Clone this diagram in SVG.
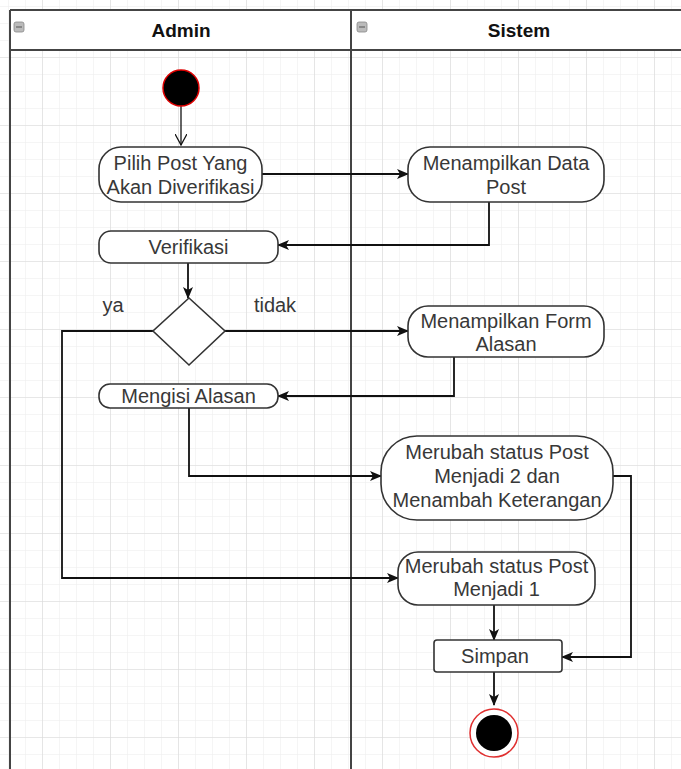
<svg xmlns="http://www.w3.org/2000/svg" width="681" height="769" viewBox="0 0 681 769">
<defs>
  <pattern id="fine" x="42" y="57" width="17" height="17" patternUnits="userSpaceOnUse">
    <path d="M0,0 H17 M0,0 V17" fill="none" stroke="#ececec" stroke-width="1"/>
  </pattern>
  <pattern id="major" x="42" y="57" width="68" height="68" patternUnits="userSpaceOnUse">
    <path d="M0,0 H68 M0,0 V68" fill="none" stroke="#dadada" stroke-width="1.2"/>
  </pattern>
  <marker id="arr" viewBox="0 0 12 10" refX="11" refY="5" markerWidth="12" markerHeight="10" markerUnits="userSpaceOnUse" orient="auto">
    <path d="M0,0 L12,5 L0,10 L3,5 z" fill="#111"/>
  </marker>
  <marker id="open" viewBox="0 0 12 12" refX="11" refY="6" markerWidth="12" markerHeight="12" markerUnits="userSpaceOnUse" orient="auto">
    <path d="M0,0 L11,6 L0,12" fill="none" stroke="#111" stroke-width="1.3"/>
  </marker>
</defs>
<style>
  .lbl { font-family: "Liberation Sans", Arial, sans-serif; font-size: 20px; fill: #383838; text-anchor: middle; }
  .hdr { font-family: "Liberation Sans", Arial, sans-serif; font-size: 19px; font-weight: bold; fill: #111; text-anchor: middle; }
  .box { fill: #fff; stroke: #333; stroke-width: 1.6; }
  .edge { fill: none; stroke: #111; stroke-width: 1.8; marker-end: url(#arr); }
  .lane { fill: none; stroke: #444; stroke-width: 2; }
  .icon { fill: #bbb; stroke: #888; stroke-width: 0.8; }
</style>
<rect width="681" height="769" fill="#fff"/>
<rect width="681" height="769" fill="url(#fine)"/>
<rect width="681" height="769" fill="url(#major)"/>

<g id="pool">
  <rect x="10" y="10" width="680" height="40" fill="#fff"/>
  <path class="lane" d="M10,10 H690 M10,50 H690 M10,10 V780 M351,10 V780"/>
  <rect class="icon" x="14" y="22" width="10" height="10" rx="2"/>
  <line x1="16" y1="27" x2="22" y2="27" stroke="#666" stroke-width="1.2"/>
  <rect class="icon" x="357" y="22" width="10" height="10" rx="2"/>
  <line x1="359" y1="27" x2="365" y2="27" stroke="#666" stroke-width="1.2"/>
  <text class="hdr" x="181" y="37">Admin</text>
  <text class="hdr" x="519" y="37">Sistem</text>
</g>

<g id="connectors">
  <path d="M181,106 V145" fill="none" stroke="#111" stroke-width="1.3" marker-end="url(#open)"/>
  <path class="edge" d="M262,174 H408"/>
  <path class="edge" d="M489,202 V245 H278"/>
  <path class="edge" d="M188,263 V298"/>
  <path class="edge" d="M225,331 H408"/>
  <path class="edge" d="M153,331 H62 V578 H398"/>
  <path class="edge" d="M454,357 V396 H278"/>
  <path class="edge" d="M189,408 V476 H381"/>
  <path class="edge" d="M613,476 H631 V657 H562"/>
  <path class="edge" d="M494,605 V640"/>
  <path class="edge" d="M494,672 V705"/>
</g>

<g id="start">
  <circle cx="181" cy="88" r="18" fill="#000" stroke="#d00" stroke-width="1.5"/>
</g>

<g id="pilih">
  <rect class="box" x="99" y="147" width="163" height="55" rx="22"/>
  <text class="lbl" x="180.5" y="170">Pilih Post Yang</text>
  <text class="lbl" x="180.5" y="194">Akan Diverifikasi</text>
</g>

<g id="tampil-data">
  <rect class="box" x="408" y="147" width="196" height="55" rx="22"/>
  <text class="lbl" x="506" y="170">Menampilkan Data</text>
  <text class="lbl" x="506" y="194">Post</text>
</g>

<g id="verifikasi">
  <rect class="box" x="99" y="231" width="179" height="32" rx="12"/>
  <text class="lbl" x="188.5" y="254">Verifikasi</text>
</g>

<g id="decision">
  <polygon class="box" points="189,298 225,331 189,365 153,331"/>
  <text class="lbl" x="113" y="312">ya</text>
  <text class="lbl" x="275" y="312">tidak</text>
</g>

<g id="tampil-form">
  <rect class="box" x="408" y="306" width="196" height="51" rx="20"/>
  <text class="lbl" x="506" y="328">Menampilkan Form</text>
  <text class="lbl" x="506" y="351">Alasan</text>
</g>

<g id="mengisi">
  <rect class="box" x="99" y="384" width="179" height="24" rx="11"/>
  <text class="lbl" x="188.5" y="403">Mengisi Alasan</text>
</g>

<g id="status2">
  <rect class="box" x="381" y="436" width="232" height="84" rx="36"/>
  <text class="lbl" x="497" y="459">Merubah status Post</text>
  <text class="lbl" x="497" y="483">Menjadi 2 dan</text>
  <text class="lbl" x="497" y="507">Menambah Keterangan</text>
</g>

<g id="status1">
  <rect class="box" x="398" y="552" width="197" height="53" rx="20"/>
  <text class="lbl" x="496.5" y="573">Merubah status Post</text>
  <text class="lbl" x="496.5" y="596">Menjadi 1</text>
</g>

<g id="simpan">
  <rect class="box" x="434" y="640" width="128" height="32" rx="3"/>
  <text class="lbl" x="495" y="663">Simpan</text>
</g>

<g id="end">
  <circle cx="494" cy="733" r="24" fill="#fff" stroke="#e03030" stroke-width="1.5"/>
  <circle cx="494" cy="733" r="18" fill="#000"/>
</g>
</svg>
